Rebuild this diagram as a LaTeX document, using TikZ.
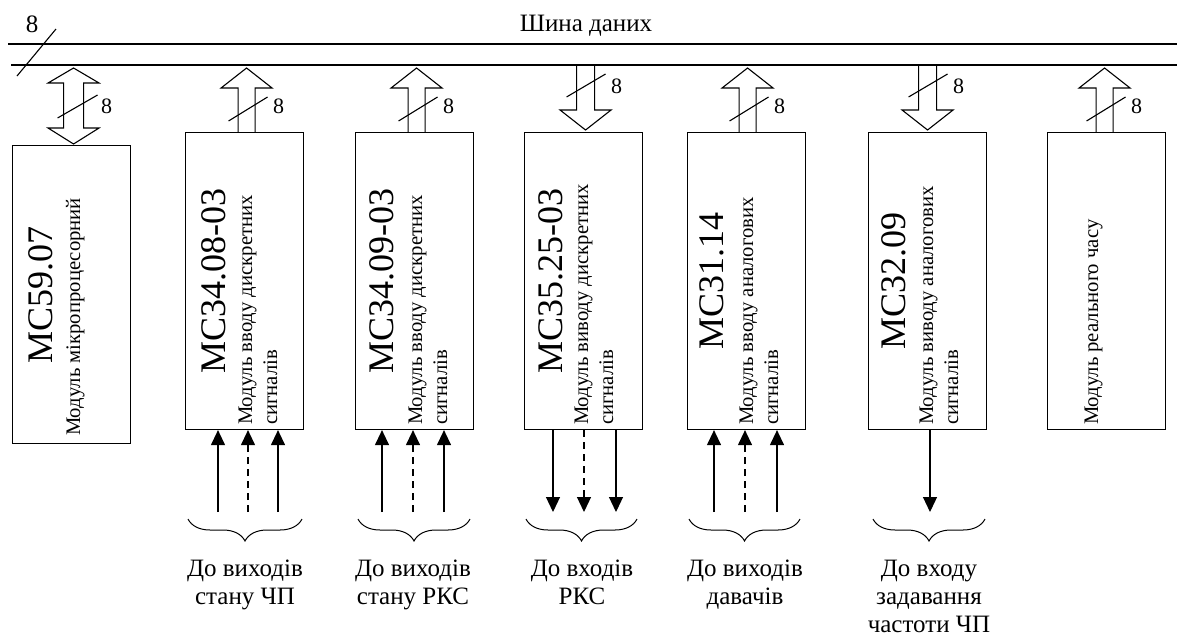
\documentclass[tikz,border=0pt]{standalone}
\usepackage{fontspec}
\setmainfont{Liberation Serif}
\usetikzlibrary{decorations.pathreplacing,arrows.meta}

\tikzset{
  module/.style={draw, line width=1.1pt, minimum width=118pt, minimum height=297pt,
    inner sep=0pt, anchor=north west},
  code/.style={rotate=90, anchor=base, inner sep=0pt, font=\fontsize{36}{40}\selectfont},
  desc/.style={rotate=90, anchor=base west, inner sep=0pt, font=\fontsize{20.7}{25}\selectfont},
  buslabel/.style={inner sep=0pt, font=\fontsize{25}{28}\selectfont},
  width8/.style={inner sep=0pt, anchor=base, font=\fontsize{22}{24}\selectfont},
  target/.style={inner sep=0pt, anchor=north, align=center, font=\fontsize{25}{28}\selectfont},
  busline/.style={line width=1.2pt},
  blockarr/.style={line width=1.1pt, line join=miter},
  slash/.style={line width=1.1pt},
  sig/.style={line width=1.2pt, -{Triangle[length=15pt,width=14pt]}},
  sigdash/.style={sig, dash pattern=on 7pt off 5pt},
  group/.style={line width=1pt, decorate, decoration={brace, mirror, amplitude=22pt}},
  % block arrow from a module up into the bus (origin: top centre of the module)
  pics/tobus/.style={code={
    \draw[blockarr] (-8.5,0) -- (-8.5,-44) -- (-25.5,-44) -- (0,-64) -- (25.5,-44) -- (8.5,-44) -- (8.5,0);
    \draw[slash] (-18,-11) -- (21,-35);
    \node[width8] at (32,-19) {8};
  }},
  % block arrow from the bus down into a module
  pics/frombus/.style={code={
    \draw[blockarr] (-9,-67) -- (-9,-22) -- (-25.5,-22) -- (0,-2) -- (25.5,-22) -- (9,-22) -- (9,-67);
    \draw[slash] (-19,-35) -- (20,-58);
    \node[width8] at (31,-39) {8};
  }},
  % two-way block arrow between the bus and the processor module
  pics/bothbus/.style={code={
    \draw[blockarr] (0,-77) -- (25.5,-62) -- (10,-62) -- (10,-17) -- (25.5,-17) -- (0,-1)
      -- (-25.5,-17) -- (-10,-17) -- (-10,-62) -- (-25.5,-62) -- cycle;
    \draw[slash] (-16,-27) -- (24,-50);
    \node[width8] at (33,-32) {8};
  }},
}

\begin{document}
\begin{tikzpicture}[x=1pt, y=-1pt]
\useasboundingbox (0,0) rectangle (1177,638);

% data bus
\draw[busline] (8,44) -- (1177,44);
\draw[busline] (11,65) -- (1177,65);
\draw[slash] (17,76) -- (56,29);
\node[buslabel, anchor=base] (buswidth) at (32,32) {8};
\node[buslabel, anchor=base] (busname) at (586,31) {Шина даних};

% modules
\node[module, minimum height=298pt] (m1) at (12,145) {};
\node[module] (m2) at (185,132) {};
\node[module] (m3) at (355,132) {};
\node[module] (m4) at (524,132) {};
\node[module] (m5) at (687,132) {};
\node[module] (m6) at (868,132) {};
\node[module] (m7) at (1047,132) {};

% module captions
\node[code] (m1c) at ([xshift=40pt]m1.west) {МС59.07};
\node[desc] (m1d) at ([shift={(68,-8)}]m1.south west) {Модуль мікропроцесорний};

\node[code] (m2c) at ([xshift=40pt]m2.west) {МС34.08-03};
\node[desc] (m2d) at ([shift={(67,-5)}]m2.south west) {Модуль вводу дискретних};
\node[desc] (m2e) at ([shift={(92,-5)}]m2.south west) {сигналів};

\node[code] (m3c) at ([xshift=38pt]m3.west) {МС34.09-03};
\node[desc] (m3d) at ([shift={(67,-5)}]m3.south west) {Модуль вводу дискретних};
\node[desc] (m3e) at ([shift={(92,-5)}]m3.south west) {сигналів};

\node[code] (m4c) at ([xshift=38pt]m4.west) {МС35.25-03};
\node[desc] (m4d) at ([shift={(64,-5)}]m4.south west) {Модуль виводу дискретних};
\node[desc] (m4e) at ([shift={(89,-5)}]m4.south west) {сигналів};

\node[code] (m5c) at ([xshift=36pt]m5.west) {МС31.14};
\node[desc] (m5d) at ([shift={(66,-5)}]m5.south west) {Модуль вводу аналогових};
\node[desc] (m5e) at ([shift={(91,-5)}]m5.south west) {сигналів};

\node[code] (m6c) at ([xshift=37pt]m6.west) {МС32.09};
\node[desc] (m6d) at ([shift={(65,-5)}]m6.south west) {Модуль виводу аналогових};
\node[desc] (m6e) at ([shift={(90,-5)}]m6.south west) {сигналів};

\node[desc] (m7d) at ([shift={(51,-5)}]m7.south west) {Модуль реального часу};

% bus connections
\pic at ([xshift=2pt]m1.north) {bothbus};
\pic at ([xshift=2pt]m2.north) {tobus};
\pic at ([xshift=2pt]m3.north) {tobus};
\pic at ([xshift=2pt]m4.north) {frombus};
\pic at ([xshift=1pt]m5.north) {tobus};
\pic at (m6.north) {frombus};
\pic at ([xshift=-2pt]m7.north) {tobus};

% field signal ends
\coordinate (s2a) at (218,512); \coordinate (s2b) at (248,512); \coordinate (s2c) at (278,512);
\coordinate (s3a) at (382,512); \coordinate (s3b) at (413,512); \coordinate (s3c) at (444,512);
\coordinate (s4a) at (553,512); \coordinate (s4b) at (584,512); \coordinate (s4c) at (616,512);
\coordinate (s5a) at (714,512); \coordinate (s5b) at (745,512); \coordinate (s5c) at (777,512);
\coordinate (s6a) at (930,512);

% input signals
\draw[sig]     (s2a) -- (s2a |- m2.south);
\draw[sigdash] (s2b) -- (s2b |- m2.south);
\draw[sig]     (s2c) -- (s2c |- m2.south);
\draw[sig]     (s3a) -- (s3a |- m3.south);
\draw[sigdash] (s3b) -- (s3b |- m3.south);
\draw[sig]     (s3c) -- (s3c |- m3.south);
\draw[sig]     (s5a) -- (s5a |- m5.south);
\draw[sigdash] (s5b) -- (s5b |- m5.south);
\draw[sig]     (s5c) -- (s5c |- m5.south);
% output signals
\draw[sig]     (s4a |- m4.south) -- (s4a);
\draw[sigdash] (s4b |- m4.south) -- (s4b);
\draw[sig]     (s4c |- m4.south) -- (s4c);
\draw[sig]     (s6a |- m6.south) -- (s6a);

% signal groups
\draw[group] (188,519) -- (302,519);
\draw[group] (358,519) -- (470,519);
\draw[group] (526,519) -- (637,519);
\draw[group] (689,519) -- (800,519);
\draw[group] (873,519) -- (985,519);

\node[target] (t2) at (245,560) {До виходів\\стану ЧП};
\node[target] (t3) at (413,560) {До виходів\\стану РКС};
\node[target] (t4) at (582,560) {До входів\\РКС};
\node[target] (t5) at (745,560) {До виходів\\давачів};
\node[target] (t6) at (929,560) {До входу\\задавання\\частоти ЧП};
\end{tikzpicture}
\end{document}
